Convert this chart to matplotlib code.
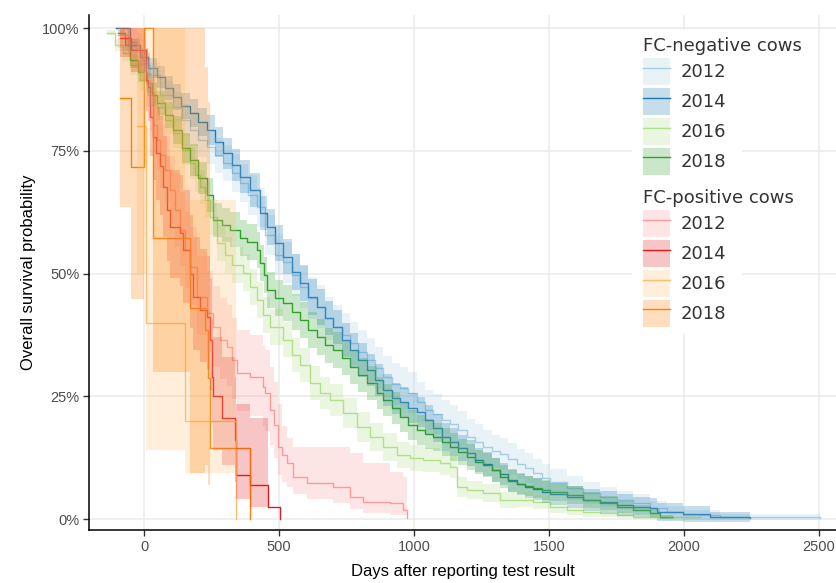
import matplotlib
matplotlib.use("Agg")
import matplotlib.pyplot as plt
from matplotlib.patches import Patch, Rectangle
from matplotlib.lines import Line2D
from matplotlib.ticker import FuncFormatter

# ── Data ────────────────────────────────────────────────────────────────────
# FC-negative cows: days, survival, CI half width
neg12_days = [-104, -59, -15, 22, 59, 107, 141, 170, 200, 233,
              263, 293, 326, 356, 385, 419, 448, 485, 515, 548,
              578, 607, 641, 670, 700, 733, 763, 793, 826, 856,
              885, 919, 948, 978, 1011, 1041, 1070, 1104, 1133, 1163,
              1196, 1226, 1256, 1289, 1319, 1348, 1381, 1411, 1441, 1474,
              1504, 1567, 1626, 1689, 1752, 1811, 1874, 1937, 1996, 2133,
              2504]
neg12_surv = [1.0, 0.965, 0.925, 0.904, 0.864, 0.839, 0.813, 0.792, 0.772, 0.758,
              0.741, 0.725, 0.705, 0.684, 0.66, 0.635, 0.578, 0.538, 0.523, 0.497,
              0.473, 0.45, 0.432, 0.409, 0.391, 0.375, 0.358, 0.34, 0.324, 0.308,
              0.289, 0.275, 0.267, 0.257, 0.238, 0.222, 0.214, 0.202, 0.193, 0.181,
              0.167, 0.157, 0.147, 0.138, 0.132, 0.122, 0.112, 0.104, 0.094, 0.084,
              0.075, 0.063, 0.053, 0.045, 0.039, 0.033, 0.022, 0.014, 0.008, 0.004,
              0.002]
neg12_ci = [0.0, 0.015, 0.02, 0.025, 0.028, 0.03, 0.032, 0.033, 0.034, 0.035,
            0.036, 0.037, 0.038, 0.039, 0.04, 0.04, 0.041, 0.042, 0.042, 0.043,
            0.043, 0.043, 0.044, 0.044, 0.044, 0.044, 0.044, 0.044, 0.044, 0.043,
            0.043, 0.043, 0.042, 0.042, 0.041, 0.041, 0.04, 0.04, 0.039, 0.038,
            0.037, 0.036, 0.035, 0.034, 0.033, 0.032, 0.031, 0.03, 0.029, 0.028,
            0.027, 0.025, 0.023, 0.021, 0.019, 0.017, 0.015, 0.012, 0.01, 0.006,
            0.0]

neg14_days = [-104, -52, -15, 15, 48, 78, 107, 137, 170, 200,
              233, 263, 293, 326, 356, 393, 430, 456, 485, 515,
              548, 578, 607, 641, 670, 700, 733, 763, 793, 826,
              856, 885, 919, 948, 978, 1011, 1041, 1070, 1104, 1133,
              1163, 1196, 1226, 1256, 1289, 1319, 1348, 1381, 1411, 1441,
              1474, 1504, 1567, 1626, 1689, 1752, 1811, 1874, 1900, 1996,
              2096, 2244]
neg14_surv = [1.0, 0.965, 0.941, 0.918, 0.90, 0.878, 0.859, 0.841, 0.827, 0.809,
              0.792, 0.768, 0.745, 0.721, 0.697, 0.67, 0.623, 0.595, 0.562, 0.534,
              0.503, 0.481, 0.452, 0.432, 0.409, 0.391, 0.365, 0.344, 0.324, 0.303,
              0.283, 0.263, 0.246, 0.238, 0.226, 0.218, 0.202, 0.185, 0.167, 0.157,
              0.145, 0.134, 0.12, 0.112, 0.10, 0.092, 0.079, 0.071, 0.065, 0.061,
              0.055, 0.051, 0.045, 0.039, 0.035, 0.029, 0.024, 0.022, 0.014, 0.010,
              0.004, 0.002]
neg14_ci = [0.0, 0.012, 0.016, 0.02, 0.022, 0.024, 0.026, 0.027, 0.028, 0.029,
            0.03, 0.031, 0.032, 0.033, 0.034, 0.035, 0.035, 0.036, 0.036, 0.036,
            0.036, 0.036, 0.036, 0.036, 0.035, 0.035, 0.035, 0.034, 0.034, 0.033,
            0.033, 0.032, 0.032, 0.031, 0.031, 0.03, 0.03, 0.029, 0.028, 0.028,
            0.027, 0.026, 0.025, 0.025, 0.024, 0.023, 0.023, 0.023, 0.022, 0.022,
            0.022, 0.022, 0.022, 0.022, 0.022, 0.022, 0.02, 0.02, 0.018, 0.016,
            0.01, 0.0]

neg16_days = [-137, -107, -78, -52, -15, 15, 48, 78, 107, 141,
              170, 189, 207, 226, 244, 270, 300, 326, 367, 393,
              419, 441, 467, 515, 548, 578, 615, 652, 689, 737,
              789, 837, 885, 937, 985, 1033, 1096, 1133, 1159, 1196,
              1256, 1319, 1381, 1441, 1504, 1567, 1626, 1689, 1752, 1811,
              2059]
neg16_surv = [0.99, 0.965, 0.949, 0.925, 0.894, 0.864, 0.839, 0.813, 0.786, 0.752,
              0.725, 0.70, 0.676, 0.65, 0.615, 0.562, 0.538, 0.517, 0.501, 0.473,
              0.446, 0.415, 0.391, 0.365, 0.334, 0.314, 0.277, 0.257, 0.242, 0.216,
              0.187, 0.167, 0.147, 0.13, 0.124, 0.12, 0.114, 0.106, 0.065, 0.059,
              0.053, 0.039, 0.039, 0.035, 0.024, 0.018, 0.014, 0.012, 0.008, 0.004,
              0.004]
neg16_ci = [0.005, 0.012, 0.016, 0.02, 0.023, 0.025, 0.027, 0.029, 0.031, 0.032,
            0.033, 0.034, 0.035, 0.035, 0.036, 0.036, 0.037, 0.037, 0.037, 0.037,
            0.037, 0.037, 0.036, 0.036, 0.035, 0.035, 0.034, 0.033, 0.032, 0.031,
            0.03, 0.029, 0.028, 0.027, 0.026, 0.025, 0.024, 0.023, 0.02, 0.019,
            0.018, 0.016, 0.015, 0.014, 0.012, 0.01, 0.009, 0.008, 0.006, 0.004,
            0.004]

neg18_days = [-96, -70, -52, -22, 11, 30, 48, 78, 107, 141,
              170, 200, 233, 256, 289, 319, 356, 381, 419, 430,
              444, 456, 485, 515, 548, 578, 607, 641, 670, 700,
              733, 763, 793, 826, 863, 885, 919, 948, 978, 1011,
              1041, 1070, 1104, 1133, 1163, 1196, 1226, 1256, 1289, 1319,
              1348, 1381, 1411, 1441, 1474, 1504, 1567, 1626, 1689, 1752,
              1811, 1874, 1911, 1959]
neg18_surv = [0.99, 0.965, 0.935, 0.91, 0.888, 0.864, 0.847, 0.823, 0.792, 0.756,
              0.731, 0.695, 0.66, 0.609, 0.599, 0.589, 0.572, 0.564, 0.548, 0.521,
              0.497, 0.466, 0.45, 0.44, 0.422, 0.405, 0.385, 0.371, 0.354, 0.344,
              0.328, 0.31, 0.293, 0.277, 0.257, 0.242, 0.226, 0.208, 0.191, 0.181,
              0.173, 0.167, 0.157, 0.147, 0.136, 0.126, 0.116, 0.11, 0.10, 0.086,
              0.077, 0.071, 0.067, 0.063, 0.059, 0.055, 0.049, 0.039, 0.033, 0.024,
              0.018, 0.012, 0.004, 0.004]
neg18_ci = [0.005, 0.012, 0.016, 0.019, 0.021, 0.023, 0.025, 0.027, 0.029, 0.031,
            0.032, 0.033, 0.034, 0.035, 0.035, 0.036, 0.036, 0.036, 0.037, 0.037,
            0.037, 0.037, 0.037, 0.037, 0.037, 0.037, 0.037, 0.036, 0.036, 0.036,
            0.035, 0.035, 0.034, 0.034, 0.033, 0.033, 0.032, 0.031, 0.031, 0.03,
            0.03, 0.029, 0.028, 0.028, 0.027, 0.026, 0.025, 0.025, 0.024, 0.023,
            0.022, 0.021, 0.021, 0.02, 0.02, 0.019, 0.018, 0.016, 0.014, 0.012,
            0.01, 0.008, 0.004, 0.004]

# FC-positive cows: days, survival, lower and upper CI
pos12_days = [-96, -59, -26, -7, 7, 22, 33, 48, 59, 78,
              96, 115, 133, 152, 170, 196, 233, 256, 281, 307,
              326, 344, 393, 441, 448, 467, 481, 496, 511, 530,
              552, 604, 700, 763, 811, 911, 959, 974]
pos12_surv = [0.986, 0.971, 0.955, 0.935, 0.888, 0.843, 0.802, 0.772, 0.741, 0.711,
              0.67, 0.629, 0.589, 0.548, 0.513, 0.452, 0.42, 0.391, 0.365, 0.35,
              0.324, 0.297, 0.289, 0.269, 0.257, 0.222, 0.191, 0.147, 0.13, 0.114,
              0.086, 0.073, 0.065, 0.045, 0.035, 0.033, 0.018, 0.002]
pos12_lo = [0.96, 0.94, 0.92, 0.895, 0.84, 0.79, 0.745, 0.71, 0.675, 0.645,
            0.60, 0.555, 0.515, 0.47, 0.435, 0.375, 0.34, 0.31, 0.285, 0.27,
            0.245, 0.22, 0.21, 0.19, 0.18, 0.15, 0.125, 0.09, 0.075, 0.065,
            0.05, 0.04, 0.033, 0.02, 0.012, 0.008, 0.008, 0.002]
pos12_hi = [1.0, 1.0, 0.99, 0.975, 0.935, 0.895, 0.86, 0.835, 0.805, 0.78,
            0.74, 0.705, 0.665, 0.625, 0.595, 0.535, 0.505, 0.475, 0.45, 0.435,
            0.41, 0.385, 0.375, 0.355, 0.345, 0.31, 0.28, 0.235, 0.19, 0.165,
            0.147, 0.147, 0.147, 0.134, 0.114, 0.096, 0.086, 0.002]

pos14_days = [-89, -48, 8, 15, 22, 33, 44, 59, 70, 85,
              96, 133, 144, 170, 181, 207, 233, 244, 250, 255,
              287, 335, 342, 393, 459, 504]
pos14_surv = [0.98, 0.955, 0.894, 0.88, 0.819, 0.778, 0.745, 0.718, 0.677, 0.63,
              0.595, 0.582, 0.548, 0.50, 0.453, 0.426, 0.412, 0.365, 0.29, 0.25,
              0.205, 0.16, 0.09, 0.069, 0.025, 0.0]
pos14_lo = [0.94, 0.91, 0.83, 0.81, 0.74, 0.69, 0.65, 0.62, 0.575, 0.525,
            0.49, 0.475, 0.44, 0.39, 0.345, 0.32, 0.305, 0.26, 0.195, 0.14,
            0.11, 0.075, 0.04, 0.025, 0.025, 0.0]
pos14_hi = [1.0, 1.0, 0.96, 0.95, 0.90, 0.87, 0.84, 0.82, 0.78, 0.74,
            0.71, 0.70, 0.67, 0.62, 0.575, 0.55, 0.535, 0.49, 0.41, 0.37,
            0.33, 0.29, 0.235, 0.205, 0.025, 0.0]

pos16_days = [-26, 7, 152, 341]
pos16_surv = [0.8, 0.4, 0.2, 0.0]
pos16_lo = [0.5, 0.14, 0.094, 0.0]
pos16_hi = [1.0, 1.0, 0.65, 0.0]

pos18_days = [-89, -48, 0, 33, 170, 226, 237, 244, 393]
pos18_surv = [0.857, 0.717, 1.0, 0.572, 0.43, 0.385, 0.287, 0.145, 0.0]
pos18_lo = [0.635, 0.448, 1.0, 0.30, 0.094, 0.11, 0.07, 0.145, 0.0]
pos18_hi = [1.0, 1.0, 1.0, 1.0, 1.0, 0.92, 0.85, 0.145, 0.0]

years = ["2012", "2014", "2016", "2018"]
neg_colors = ["#A6CEE3", "#1F78B4", "#B2DF8A", "#33A02C"]
pos_colors = ["#FB9A99", "#E31A1C", "#FDBF6F", "#FF7F00"]
FILL_ALPHA = 0.25


def band(surv, ci):
    lo = [s - c for s, c in zip(surv, ci)]
    hi = [min(1.0, s + c) for s, c in zip(surv, ci)]
    return lo, hi


neg_series = [
    (neg12_days, neg12_surv, *band(neg12_surv, neg12_ci)),
    (neg14_days, neg14_surv, *band(neg14_surv, neg14_ci)),
    (neg16_days, neg16_surv, *band(neg16_surv, neg16_ci)),
    (neg18_days, neg18_surv, *band(neg18_surv, neg18_ci)),
]
pos_series = [
    (pos12_days, pos12_surv, pos12_lo, pos12_hi),
    (pos14_days, pos14_surv, pos14_lo, pos14_hi),
    (pos16_days, pos16_surv, pos16_lo, pos16_hi),
    (pos18_days, pos18_surv, pos18_lo, pos18_hi),
]
all_series = list(zip(neg_series + pos_series, neg_colors + pos_colors))

# ── Figure ───────────────────────────────────────────────────────────────────
plt.rcParams["font.family"] = ["Liberation Sans", "DejaVu Sans"]

W, H = 836, 583
fig = plt.figure(figsize=(W / 100, H / 100), dpi=100)
ax = fig.add_axes([89 / W, 53 / H, 1 - 89 / W, (530 - 15) / H])

# lines first, ribbons drawn over them
for (d, s, lo, hi), col in all_series:
    ax.step(d, s, where="post", color=col, lw=1.0, zorder=2)
for (d, s, lo, hi), col in all_series:
    ax.fill_between(d, lo, hi, step="post", color=col, alpha=FILL_ALPHA,
                    lw=0, zorder=3)

ax.set_xlim(-204, 2563)
ax.set_ylim(-0.0224, 1.0265)
ax.set_xticks([0, 500, 1000, 1500, 2000, 2500])
ax.set_yticks([0, 0.25, 0.5, 0.75, 1.0])
ax.yaxis.set_major_formatter(FuncFormatter(lambda v, p: f"{int(round(v * 100))}%"))

ax.set_axisbelow(True)
ax.grid(color="#ebebeb", lw=1.1)
for side in ["top", "right"]:
    ax.spines[side].set_visible(False)
for side in ["left", "bottom"]:
    ax.spines[side].set_color("black")
    ax.spines[side].set_linewidth(1.1)
ax.tick_params(length=4, width=1, color="#333333", labelcolor="#4d4d4d",
               labelsize=10.5, pad=3)

ax.set_xlabel("Days after reporting test result", fontsize=12, labelpad=7.5)
ax.set_ylabel("Overall survival probability", fontsize=12, labelpad=4.5)

# white box behind the legend keys (gridlines are hidden there)
ax.add_patch(Rectangle((632 / W, 1 - 334 / H), (742 - 632) / W, (334 - 30) / H,
                       transform=fig.transFigure, facecolor="white",
                       edgecolor="none", zorder=1, clip_on=False))


def make_handles(colors):
    return [(Patch(facecolor=c, alpha=FILL_ALPHA, edgecolor="none"),
             Line2D([0], [0], color=c, lw=1.0)) for c in colors]


legend_kw = dict(loc="upper left", bbox_transform=fig.transFigure, frameon=False,
                 borderpad=0, borderaxespad=0, handlelength=1.5, handleheight=1.92,
                 labelspacing=0.166, handletextpad=0.6,
                 prop={"family": "DejaVu Sans", "size": 13},
                 title_fontproperties={"family": "DejaVu Sans", "size": 13},
                 alignment="left", labelcolor="#333333")

leg1 = ax.legend(make_handles(neg_colors), years, title="FC-negative cows",
                 bbox_to_anchor=(643 / W, 1 - 37 / H), **legend_kw)
leg1.get_title().set_color("#333333")
ax.add_artist(leg1)
leg2 = ax.legend(make_handles(pos_colors), years, title="FC-positive cows",
                 bbox_to_anchor=(643 / W, 1 - 189 / H), **legend_kw)
leg2.get_title().set_color("#333333")

fig.savefig("out.png", dpi=100)
